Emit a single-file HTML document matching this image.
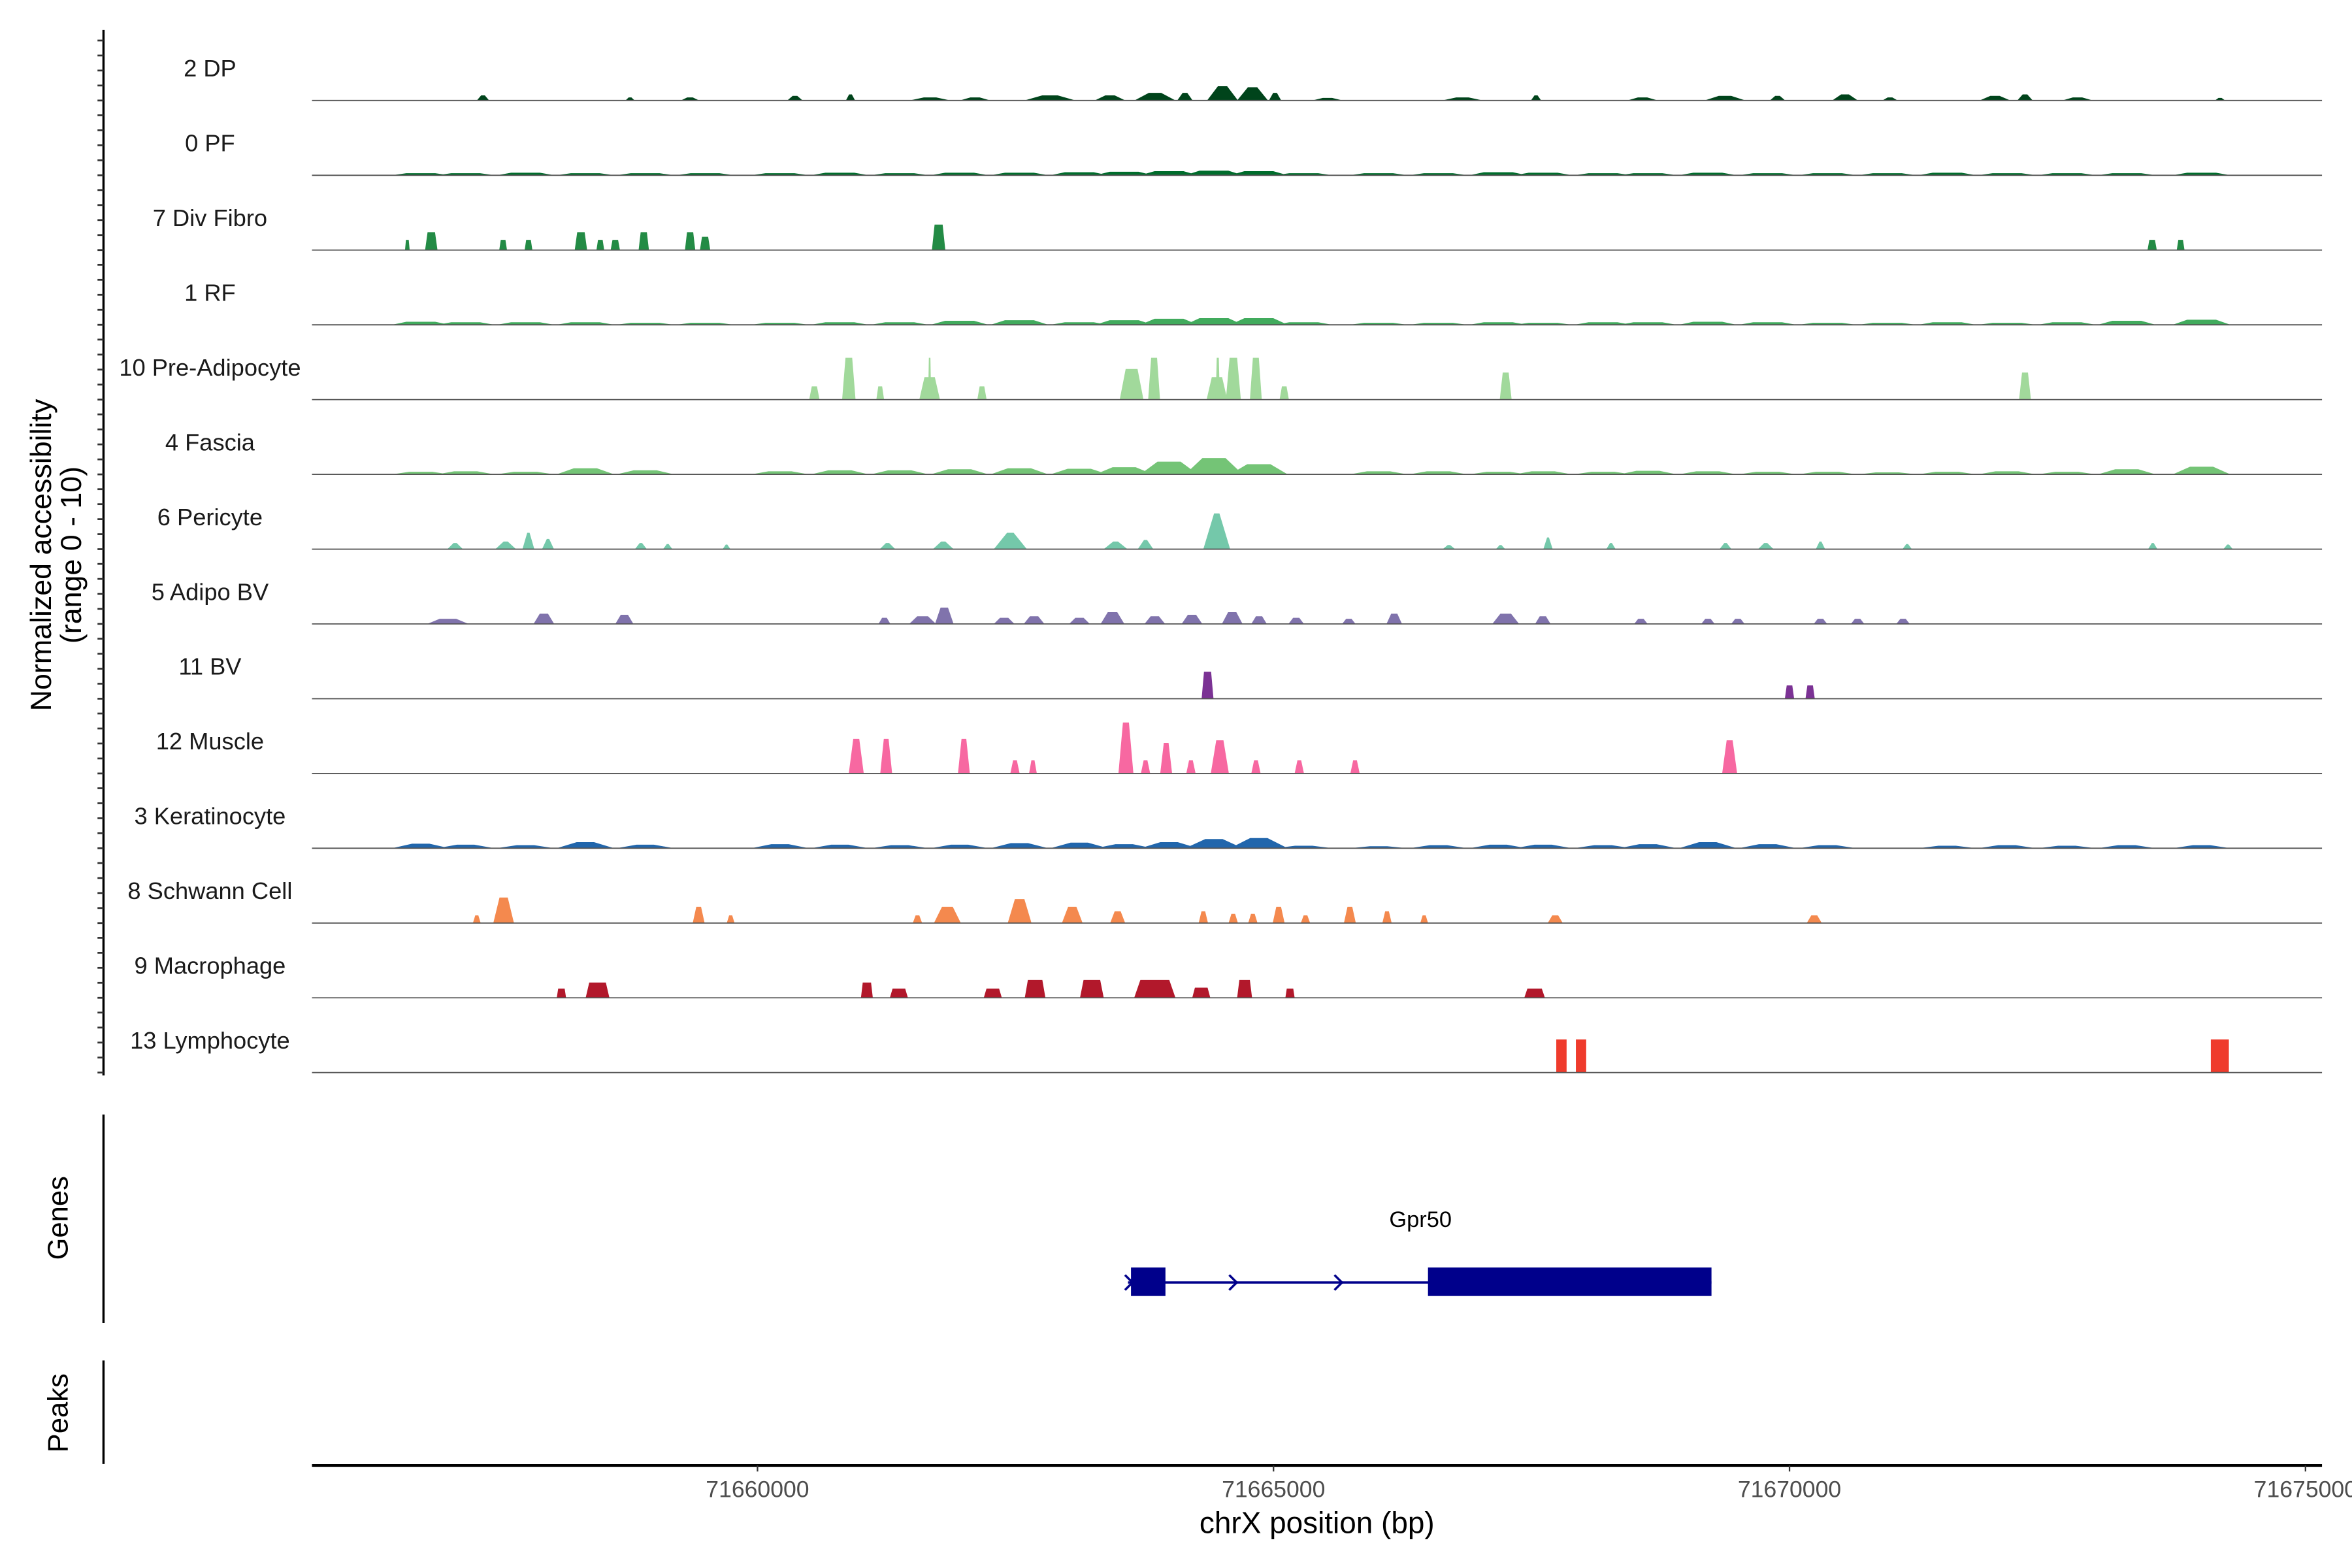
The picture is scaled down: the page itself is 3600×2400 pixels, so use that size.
<!DOCTYPE html>
<html><head><meta charset="utf-8"><style>
html,body{margin:0;padding:0;background:#fff;}
svg{display:block;}
text{font-family:"Liberation Sans",Arial,sans-serif;}
</style></head><body>
<svg id="chart" width="3600" height="2400" viewBox="0 0 1568 1045.33" xmlns="http://www.w3.org/2000/svg">
<g id="tracks"></g>
<g id="axes"></g>
</svg>
<script>
const trackNames = ["2 DP","0 PF","7 Div Fibro","1 RF","10 Pre-Adipocyte","4 Fascia","6 Pericyte","5 Adipo BV","11 BV","12 Muscle","3 Keratinocyte","8 Schwann Cell","9 Macrophage","13 Lymphocyte"];
const trackColors = ["#00441b","#006d2c","#238b45","#41ab5d","#a1d99b","#74c476","#74c8aa","#8073ac","#7b3294","#f768a1","#2166ac","#f4894e","#b2182b","#ef3b2c"];
const xTicks = [71660000,71665000,71670000,71675000];
const gridPos = [71656737,71657172,71657752,71658332,71658912,71659492,71660218,71660798,71661378,71661958,71662538,71663118,71663553,71663988,71664423,71664858,71665293,71666018,71666598,71667178,71667613,71668193,71668628,71669208,71669788,71670368,71670948,71671528,71672108,71672688,71673268,71673993];
const pfValues  = [0.4,0.4,0.5,0.4,0.4,0.4,0.4,0.5,0.4,0.5,0.5,0.6,0.7,0.8,0.9,0.8,0.4,0.4,0.4,0.6,0.5,0.4,0.4,0.5,0.4,0.4,0.4,0.5,0.4,0.4,0.4,0.5];
const rfValues  = [0.6,0.5,0.5,0.5,0.4,0.4,0.4,0.5,0.5,0.8,0.9,0.5,0.9,1.2,1.3,1.3,0.5,0.4,0.4,0.5,0.4,0.5,0.5,0.6,0.5,0.4,0.4,0.5,0.4,0.5,0.8,1.0];
const fasciaValues = [0.5,0.6,0.5,1.2,0.8,0,0.6,0.8,0.8,1.0,1.2,1.1,1.4,2.5,3.2,2.0,0,0.6,0.6,0.5,0.6,0.5,0.7,0.6,0.5,0.5,0.4,0.5,0.6,0.5,1.0,1.5];
const keraValues = [0.9,0.7,0.6,1.2,0.7,0,0.8,0.7,0.6,0.7,1.0,1.1,0.8,1.2,1.8,2.0,0.5,0.4,0.6,0.7,0.7,0.6,0.8,1.2,0.8,0.6,0,0.5,0.6,0.5,0.6,0.6];
const dpPeaks = [[71657340,120,1],[71658765,90,0.6],[71659346,180,0.6],[71660363,150,0.9],[71660901,90,1.2],[71661672,400,0.6],[71662108,300,0.6],[71662834,500,1],[71663416,300,1],[71663852,400,1.5],[71664142,150,1.5],[71664506,300,2.8],[71664797,300,2.6],[71665015,120,1.5],[71665523,300,0.5],[71666831,400,0.6],[71667544,100,1],[71668576,300,0.6],[71669375,400,0.9],[71669884,150,0.9],[71670538,250,1.2],[71670974,150,0.6],[71671991,300,0.9],[71672282,150,1.2],[71672791,300,0.6],[71674172,100,0.5]];
const divFibroPeaks = [[71656607,45,2],[71656839,120,3.5],[71657535,75,2],[71657781,75,2],[71658289,120,3.5],[71658477,75,2],[71658622,90,2],[71658898,100,3.5],[71659347,100,3.5],[71659492,100,2.6],[71661755,130,5],[71673514,90,2],[71673790,75,2]];
const preAdipoPeaks = [[71660551,100,2.6],[71660885,130,8.2],[71661189,75,2.6],[71661668,200,4.4],[71661668,30,8.2],[71662175,90,2.6],[71663625,230,6],[71663843,115,8.2],[71664452,200,4.4],[71664460,40,8.2],[71664611,145,8.2],[71664829,115,8.2],[71665104,90,2.6],[71667250,115,5.3],[71672282,115,5.3]];
const pericytePeaks = [[71657070,150,1.2],[71657560,200,1.5],[71657780,115,3.2],[71657970,115,2],[71658870,115,1.2],[71659130,90,1],[71659700,75,0.9],[71661260,150,1.2],[71661800,200,1.5],[71662450,320,3.2],[71663470,230,1.5],[71663760,150,1.8],[71664450,260,7],[71666700,120,0.8],[71667200,90,0.8],[71667660,90,2.3],[71668270,90,1.2],[71669380,115,1.2],[71669770,150,1.2],[71670300,90,1.5],[71671140,90,1],[71673520,90,1.2],[71674250,90,0.9]];
const adipoBvPeaks = [[71657000,400,1],[71657930,200,2],[71658710,175,1.8],[71661230,115,1.2],[71661600,260,1.5],[71661810,180,3.2],[71662390,200,1.2],[71662680,200,1.5],[71663120,200,1.2],[71663440,230,2.3],[71663850,200,1.5],[71664210,200,1.8],[71664600,200,2.3],[71664860,150,1.5],[71665220,150,1.2],[71665730,130,1],[71666170,150,2],[71667250,260,2],[71667610,150,1.5],[71668560,130,1],[71669210,130,1],[71669500,130,1],[71670300,130,1],[71670660,130,1],[71671100,130,1]];
const bvPeaks = [[71664361,115,5.3],[71670000,90,2.6],[71670200,90,2.6]];
const musclePeaks = [[71660957,145,6.8],[71661247,115,6.8],[71662000,115,6.8],[71662495,90,2.6],[71662669,75,2.6],[71663570,145,10],[71663760,90,2.6],[71663960,115,6],[71664200,90,2.6],[71664480,175,6.5],[71664830,90,2.6],[71665250,90,2.6],[71665790,90,2.6],[71669420,145,6.5]];
const schwannPeaks = [[71657280,75,1.5],[71657540,200,5],[71659430,115,3.2],[71659740,75,1.5],[71661550,90,1.5],[71661840,260,3.2],[71662540,230,4.7],[71663050,200,3.2],[71663490,145,2.3],[71664320,90,2.3],[71664610,90,1.8],[71664800,90,1.8],[71665050,115,3.2],[71665310,90,1.5],[71665740,115,3.2],[71666100,90,2.3],[71666460,75,1.5],[71667730,145,1.5],[71670240,145,1.5]];
const macroPeaks = [[71658100,90,1.8],[71658450,230,3],[71661060,115,3],[71661370,175,1.8],[71662280,175,1.8],[71662690,200,3.5],[71663240,230,3.5],[71663850,400,3.5],[71664300,175,2],[71664720,145,3.5],[71665160,90,1.8],[71667530,200,1.8]];
const lymphPeaks = [[71667790,100,6.5],[71667980,100,6.5],[71674170,175,6.5]];
const geneExons = [[71663619,71663953],[71666497,71669244]];
const geneSpan = [71663590,71669244];
const geneArrows = [71663590,71664600,71665620];

const NS="http://www.w3.org/2000/svg";
const X0=505, BP0=71660000, PXBP=0.0688;
function xs(bp){return X0+(bp-BP0)*PXBP;}
const BASE0=67, STEP=49.85, HSCALE=3.4;
function ys(i,v){return BASE0+i*STEP - v*HSCALE;}
function mk(tag,attrs,parent){const e=document.createElementNS(NS,tag);for(const k in attrs)e.setAttribute(k,attrs[k]);parent.appendChild(e);return e;}
const tracksG=document.getElementById('tracks');
const axesG=document.getElementById('axes');

function gridToPeaks(vals){const out=[];for(let i=0;i<gridPos.length;i++){if(vals[i]>0)out.push([gridPos[i],560,vals[i]]);}return out;}
const trackData=[dpPeaks,gridToPeaks(pfValues),divFibroPeaks,gridToPeaks(rfValues),preAdipoPeaks,gridToPeaks(fasciaValues),pericytePeaks,adipoBvPeaks,bvPeaks,musclePeaks,gridToPeaks(keraValues),schwannPeaks,macroPeaks,lymphPeaks];
const topFrac=[0.3,0.5,0.6,0.5,0.5,0.4,0.2,0.4,0.6,0.4,0.3,0.4,0.7,1.0];

trackNames.forEach((name,i)=>{
  const g=mk('g',{},tracksG);
  
  
  const base=ys(i,0);
  const lbl=mk('text',{x:140,y:base-16,'text-anchor':'middle','font-size':15.8,fill:'#1a1a1a'},g);
  lbl.textContent=name;
  
  
  trackData[i].forEach(p=>{
    const c=p[0],w=p[1],v=p[2];
    const l=xs(c-w/2),r=xs(c+w/2),tf=topFrac[i];
    const mid=(l+r)/2,hw=(r-l)/2*tf;
    const top=ys(i,v);
    const poly=mk('polygon',{points:`${l},${base} ${mid-hw},${top} ${mid+hw},${top} ${r},${base}`,fill:trackColors[i]},g);
    
    
  });
  const bl=mk('line',{x1:208,x2:1548,y1:base,y2:base,stroke:'#555','stroke-width':0.8},g);
  
  
});

// left y axis
const ya=mk('line',{x1:69,x2:69,y1:20,y2:717,stroke:'#000','stroke-width':1.5},axesG);


for(let i=0;i<14;i++){for(let k=0;k<5;k++){const y=ys(i,0)-k*10;if(y<20)continue;
  const t=mk('line',{x1:65,x2:69,y1:y,y2:y,stroke:'#333','stroke-width':1.2},axesG);
  
  }}
const yt=mk('text',{transform:'translate(34,370) rotate(-90)','text-anchor':'middle','font-size':19.5,fill:'#000'},axesG);


yt.innerHTML='<tspan x="0" dy="0">Normalized accessibility</tspan><tspan x="0" dy="20">(range 0 - 10)</tspan>';

// genes panel
const gl=mk('line',{x1:69,x2:69,y1:743,y2:882,stroke:'#000','stroke-width':1.5},axesG);


const gt=mk('text',{transform:'translate(45,812) rotate(-90)','text-anchor':'middle','font-size':19},axesG);
gt.textContent='Genes';


const gg=mk('g',{},axesG);


const gline=mk('line',{x1:xs(geneSpan[0]),x2:xs(geneSpan[1]),y1:855,y2:855,stroke:'#00008b','stroke-width':1.5},gg);


geneExons.forEach(e=>{const r=mk('rect',{x:xs(e[0]),y:845,width:xs(e[1])-xs(e[0]),height:19,fill:'#00008b'},gg);
  
  });
geneArrows.forEach(a=>{const x=xs(a);const p=mk('polyline',{points:`${x-2},${850} ${x+3},${855} ${x-2},${860}`,fill:'none',stroke:'#00008b','stroke-width':1.5},gg);
  
  });
const gn=mk('text',{x:947,y:818,'text-anchor':'middle','font-size':15},gg);
gn.textContent='Gpr50';



// peaks panel
const pl=mk('line',{x1:69,x2:69,y1:907,y2:976,stroke:'#000','stroke-width':1.5},axesG);


const pt=mk('text',{transform:'translate(45,942) rotate(-90)','text-anchor':'middle','font-size':19},axesG);
pt.textContent='Peaks';



// x axis
const xa=mk('line',{x1:208,x2:1548,y1:977,y2:977,stroke:'#000','stroke-width':1.8},axesG);


xTicks.forEach(t=>{const x=xs(t);
  const tk=mk('line',{x1:x,x2:x,y1:977,y2:981,stroke:'#333','stroke-width':1},axesG);
  
  
  const tl=mk('text',{x:x,y:998,'text-anchor':'middle','font-size':15.5,fill:'#4d4d4d'},axesG);
  tl.textContent=String(t);
  
  });
const xt=mk('text',{x:878,y:1022,'text-anchor':'middle','font-size':20,fill:'#000'},axesG);
xt.textContent='chrX position (bp)';


</script>
</body></html>
